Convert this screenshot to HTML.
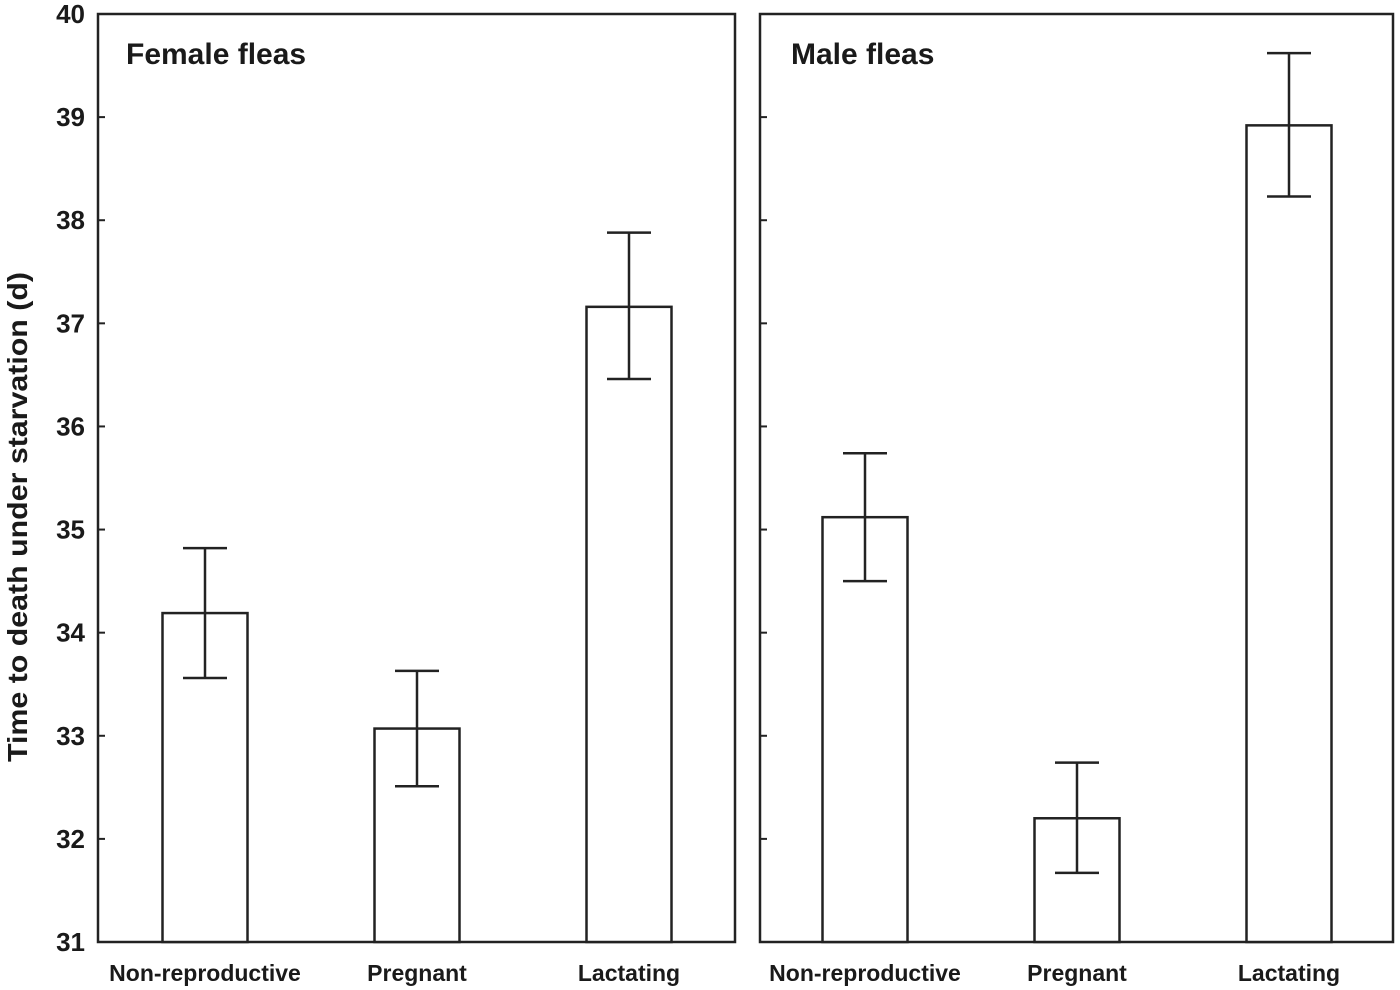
<!DOCTYPE html>
<html><head><meta charset="utf-8"><style>
body{margin:0;background:#fff;}
svg{display:block;font-family:"Liberation Sans",Arial,sans-serif;font-weight:bold;}
</style></head><body>
<svg id="chart" width="1400" height="990" viewBox="0 0 1400 990"></svg>
<script>
const categories = ["Non-reproductive","Pregnant","Lactating"];
const panels = ["Female fleas","Male fleas"];
const femaleMeans = [34.19, 33.07, 37.16];
const femaleUpper = [34.82, 33.63, 37.88];
const femaleLower = [33.56, 32.51, 36.46];
const maleMeans = [35.12, 32.20, 38.92];
const maleUpper = [35.74, 32.74, 39.62];
const maleLower = [34.50, 31.67, 38.23];
const yTicks = [31,32,33,34,35,36,37,38,39,40];

const NS = "http://www.w3.org/2000/svg";
const svg = document.getElementById('chart');
const yMin = 31, yMax = 40, yTop = 14, yBot = 942;
function y(v){ return yBot - (v - yMin) / (yMax - yMin) * (yBot - yTop); }
function mk(tag, attrs, parent){ const e = document.createElementNS(NS, tag); for (const k in attrs) e.setAttribute(k, attrs[k]); (parent||svg).appendChild(e); return e; }

const panelX = [[98,735],[760,1393]];
const firstOffset = [107,105];
const titleOffset = [28,31];
const seriesMeans = [femaleMeans, maleMeans];
const seriesUp = [femaleUpper, maleUpper];
const seriesLo = [femaleLower, maleLower];

panelX.forEach((px, p) => {
  const g = mk('g', {});
  
  
  const frame = mk('rect', {x:px[0], y:yTop, width:px[1]-px[0], height:yBot-yTop, fill:'none', stroke:'#222', 'stroke-width':2.5}, g);
  
  
  yTicks.forEach(t => {
    const tk = mk('line', {x1:px[0], x2:px[0]+7, y1:y(t), y2:y(t), stroke:'#222', 'stroke-width':2}, g);
    
    
  });
  const title = mk('text', {x:px[0]+titleOffset[p], y:64, 'font-size':30, fill:'#1a1a1a'}, g);
  title.textContent = panels[p];
  
  
  const step = 212, first = px[0] + firstOffset[p], bw = 85;
  categories.forEach((c, i) => {
    const cx = first + i * step;
    const m = seriesMeans[p][i];
    const bar = mk('rect', {x:cx-bw/2, y:y(m), width:bw, height:yBot-y(m), fill:'#fff', stroke:'#222', 'stroke-width':2.5}, g);
    
    
    const u = y(seriesUp[p][i]), l = y(seriesLo[p][i]);
    const eb = mk('path', {d:`M${cx},${u}V${l}M${cx-22},${u}H${cx+22}M${cx-22},${l}H${cx+22}`, stroke:'#222', 'stroke-width':2.5, fill:'none'}, g);
    
    
    const lab = mk('text', {x:cx, y:981, 'font-size':23, 'text-anchor':'middle', fill:'#1a1a1a'}, g);
    lab.textContent = c;
    
    
  });
});

yTicks.forEach(t => {
  const tl = mk('text', {x:85, y:y(t)+9, 'font-size':26, 'text-anchor':'end', fill:'#1a1a1a'});
  tl.textContent = t;
  
  
});
const yt = mk('text', {x:0, y:0, 'font-size':28, 'text-anchor':'middle', textLength:490, lengthAdjust:'spacingAndGlyphs', fill:'#1a1a1a', transform:'translate(27,517) rotate(-90)'});
yt.textContent = 'Time to death under starvation (d)';


</script>
</body></html>
